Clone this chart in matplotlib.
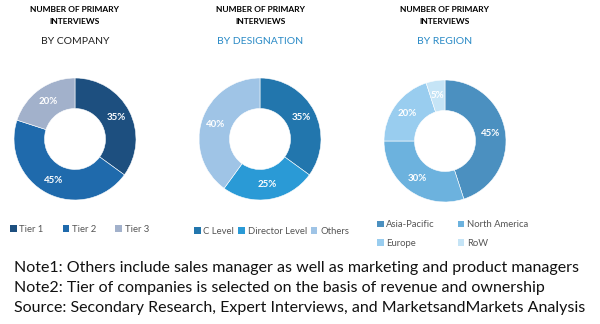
import matplotlib
matplotlib.use("Agg")
import matplotlib.pyplot as plt
from matplotlib.patches import Patch
import numpy as np

plt.rcParams['font.family'] = ['Lato', 'DejaVu Sans']

# breakdown of primary interviews
company_labels = ['Tier 1', 'Tier 2', 'Tier 3']
company_share = [35, 45, 20]
company_colors = ['#1d4f7f', '#1f6aac', '#a2b1cb']

designation_labels = ['C Level', 'Director Level', 'Others']
designation_share = [35, 25, 40]
designation_colors = ['#2276ad', '#2a9ad6', '#9fc4e6']

region_labels = ['Asia-Pacific', 'North America', 'Europe', 'RoW']
region_share = [45, 30, 20, 5]
region_colors = ['#4b90c0', '#6cb2de', '#99cdef', '#c5e4f6']

notes = ['Note1: Others include sales manager as well as marketing and product managers',
         'Note2: Tier of companies is selected on the basis of revenue and ownership',
         'Source: Secondary Research, Expert Interviews, and MarketsandMarkets Analysis']

W, H = 600, 324
fig = plt.figure(figsize=(W/100, H/100), dpi=100)
R = 61


def donut(cx, cy, title, title_color, vals, cols):
    ax = fig.add_axes([(cx-R)/W, (H-cy-R)/H, 2*R/W, 2*R/H])
    ax.pie(vals, colors=cols, startangle=90, counterclock=False, radius=1,
           wedgeprops=dict(width=0.5, edgecolor='white', linewidth=0.4))
    ang0 = 90.0
    for v in vals:
        mid = np.deg2rad(ang0 - v*3.6/2)
        ax.text(0.76*np.cos(mid), 0.76*np.sin(mid), '%d%%' % v, color='white',
                fontsize=7, fontweight='bold', ha='center', va='center')
        ang0 -= v*3.6
    ax.set_xlim(-1, 1)
    ax.set_ylim(-1, 1)
    ax.axis('off')
    fig.text(cx/W, 1-10/H, 'NUMBER OF PRIMARY', ha='center', va='center',
             fontsize=6, fontweight='bold')
    fig.text(cx/W, 1-22/H, 'INTERVIEWS', ha='center', va='center',
             fontsize=6, fontweight='bold')
    fig.text(cx/W, 1-42/H, title, ha='center', va='center', fontsize=7.5,
             color=title_color)


donut(75, 139, 'BY COMPANY', '#222222', company_share, company_colors)
donut(260, 139, 'BY DESIGNATION', '#2a8ac6', designation_share, designation_colors)
donut(445, 141, 'BY REGION', '#2a8ac6', region_share, region_colors)

leg_kw = dict(frameon=False, fontsize=6.8, handlelength=0.7, handleheight=0.7,
              handletextpad=0.3, labelcolor='#555555', borderaxespad=0, borderpad=0)


def handles(cols):
    return [Patch(facecolor=c, edgecolor='none') for c in cols]


fig.legend(handles(company_colors), company_labels, loc='center left',
           bbox_to_anchor=(10/W, 1-229/H), ncol=3, columnspacing=2.0, **leg_kw)
fig.legend(handles(designation_colors), designation_labels, loc='center left',
           bbox_to_anchor=(194/W, 1-231/H), ncol=3, columnspacing=0.4, **leg_kw)
# two columns filled row by row
order = [0, 2, 1, 3]
fig.legend(handles([region_colors[i] for i in order]),
           [region_labels[i] for i in order], loc='center left',
           bbox_to_anchor=(377/W, 1-234/H), ncol=2, columnspacing=2.4,
           labelspacing=1.0, **leg_kw)

for i, line in enumerate(notes):
    fig.text(14/W, 1-(268+20*i)/H, line, ha='left', va='center', fontsize=11.5,
             color='#111111')

fig.savefig('out.png', dpi=100)
